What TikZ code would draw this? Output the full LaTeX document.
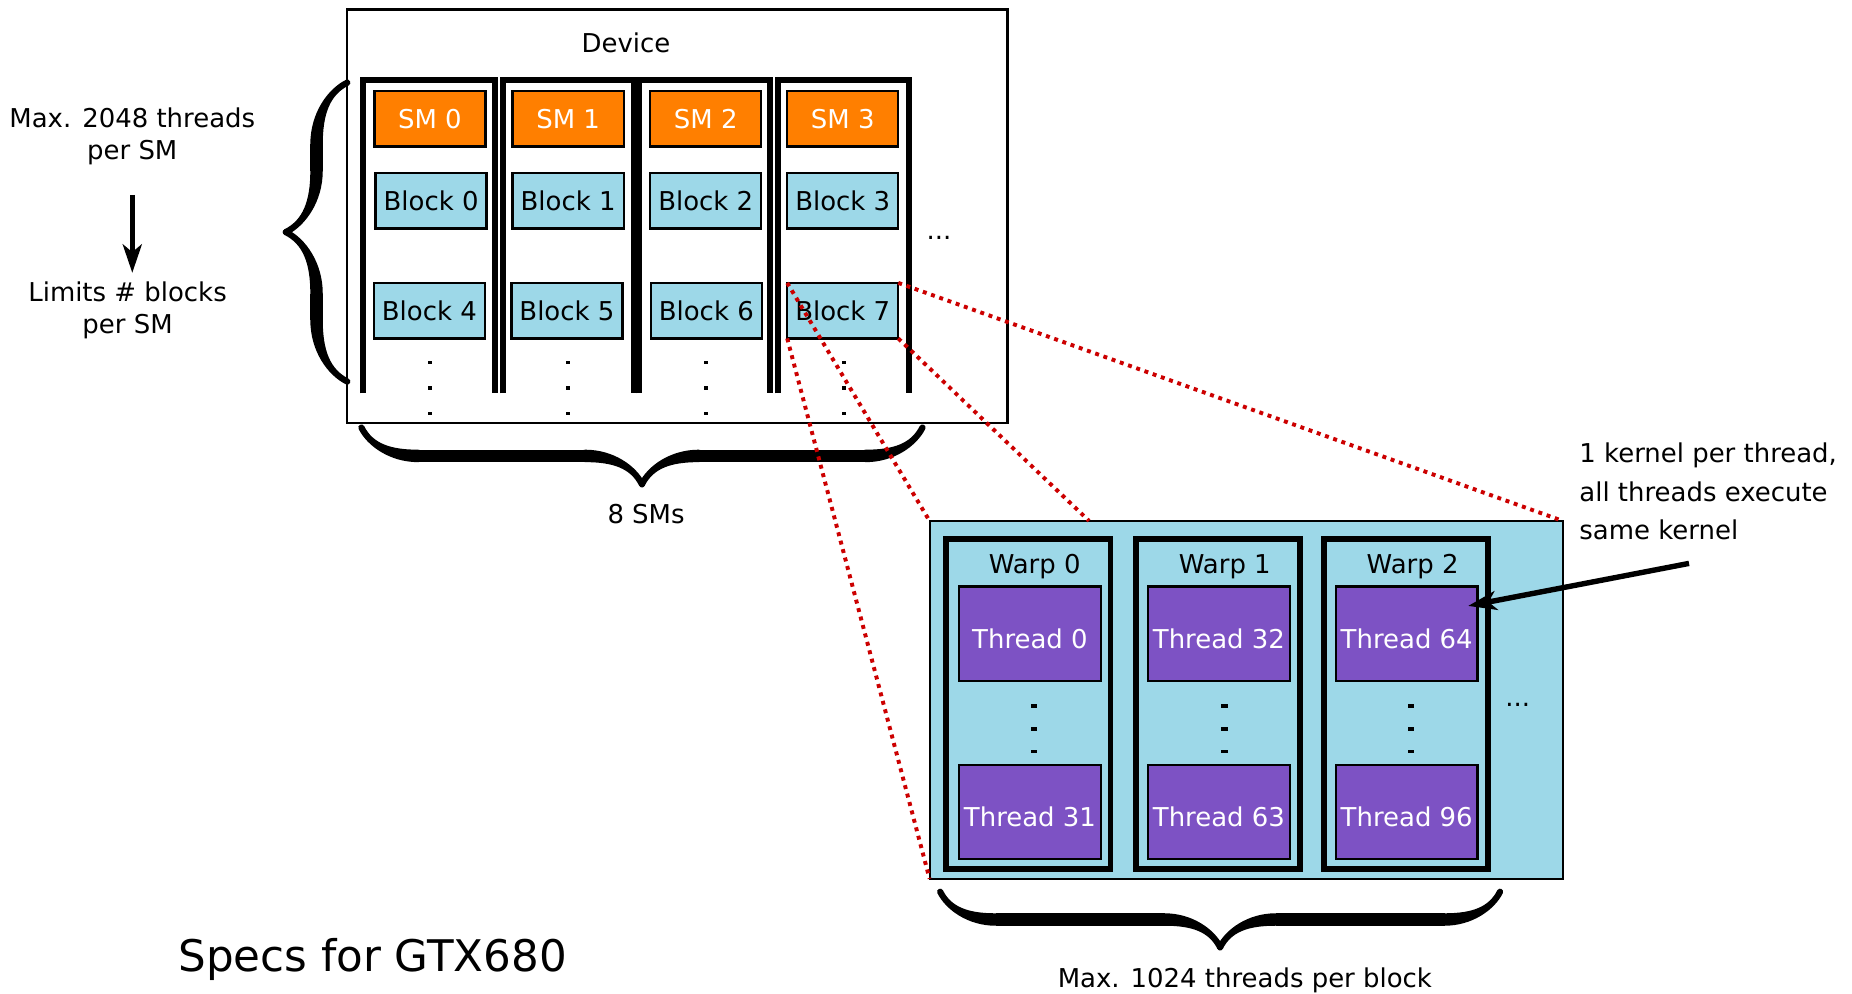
\documentclass[tikz,border=0pt]{standalone}
\usepackage{fontspec}
\setmainfont{DejaVu Sans}
\usetikzlibrary{arrows.meta,decorations.pathreplacing,calligraphy}
\definecolor{smorange}{RGB}{255,127,0}
\definecolor{blkblue}{RGB}{157,216,232}
\definecolor{thrpurple}{RGB}{125,82,196}
\definecolor{zoomred}{RGB}{204,0,0}

\begin{document}
\begin{tikzpicture}[x=.2mm,y=-.2mm,font=\fontsize{12.5}{15.4}\selectfont,
smbox/.style={draw,line width=1.1pt,fill=smorange,text=white,minimum width=18.8mm,minimum height=9.4mm,inner sep=0pt,outer sep=0pt},
blkbox/.style={draw,line width=1.1pt,fill=blkblue,minimum width=18.8mm,minimum height=9.4mm,inner sep=0pt,outer sep=0pt},
thrbox/.style={draw,line width=1.1pt,fill=thrpurple,text=white,minimum width=24mm,minimum height=16mm,inner sep=0pt,outer sep=0pt,text height=14pt,text depth=0pt},
warpbox/.style={draw,line width=2.85pt,fill=blkblue,minimum width=27.8mm,minimum height=55.8mm,inner sep=0pt,outer sep=0pt},
smcol/.style={line width=2.85pt},
zoomline/.style={draw=zoomred,line width=1.9pt,dash pattern=on 1.9pt off 2.3pt},
arr/.style={-{Stealth[length=4.8mm,width=3.2mm,inset=1.3mm]},line width=2.6pt},
brc/.style={decorate,decoration={calligraphic brace,amplitude=#1},line width=6pt,pen colour={black}}]

\useasboundingbox(0,0)rectangle(1568,841);

% threads per SM
\node[align=center](maxsm)at(112,115.5){Max. 2048 threads\\per SM};
\node[align=center](limsm)at(108,263){Limits \# blocks\\per SM};
\coordinate(a1)at(112,165);\coordinate(a2)at(112,231);
\draw[arr](a1)--(a2);
\draw[brc=10.4mm](294,323)--(294,70);

% device with 4 SMs
\draw[line width=1.1pt](294,8)rectangle(853,358);
\node(dev)at(530,36){Device};
\foreach \x in {307.7,425.5,541.2,658.4}
  \draw[smcol](\x,333)|-(\x+111,67.7)--(\x+111,333);
\node[smbox](sm0)at(364,100.5){SM 0};
\node[smbox](sm1)at(481,100.5){SM 1};
\node[smbox](sm2)at(597.5,100.5){SM 2};
\node[smbox](sm3)at(713.5,100.5){SM 3};
\node[blkbox](b0)at(365,170){Block 0};
\node[blkbox](b1)at(481,170){Block 1};
\node[blkbox](b2)at(597.5,170){Block 2};
\node[blkbox](b3)at(713.5,170){Block 3};
\node[blkbox](b4)at(363.5,263){Block 4};
\node[blkbox](b5)at(480,263){Block 5};
\node[blkbox](b6)at(598,263){Block 6};
\node[blkbox](b7)at(713.5,263){Block 7};
\foreach \x in {364.2,481,597.7,714.8}
  \foreach \y in {307,328.5,350}
    \fill(\x-1.75,\y-1.5)rectangle(\x+1.75,\y+1.5);
\node(smmore)at(795,201){...};
\draw[brc=9.6mm](781,362)--(306,362);
\node(nsm)at(547,435){8 SMs};

% one block, zoomed
\node[draw,line width=1pt,fill=blkblue,minimum width=107.2mm,minimum height=60.6mm,inner sep=0pt,outer sep=0pt](blk)at(1055,592.5){};
\coordinate(cut)at(922,441);
\draw[zoomline](b7.north west)--(blk.north west);
\draw[zoomline](b7.south west)--(blk.south west);
\draw[zoomline](b7.north east)--(blk.north east);
\draw[zoomline](b7.south east)--(cut);
\node[warpbox](w0)at(870.7,596){};
\node[warpbox](w1)at(1031.5,596){};
\node[warpbox](w2)at(1190.3,596){};
\node(wl0)at(876,480){Warp 0};
\node(wl1)at(1037,480){Warp 1};
\node(wl2)at(1196,480){Warp 2};
\node[thrbox](t0)at(872,536.5){Thread 0};
\node[thrbox](t31)at(872,687.5){Thread 31};
\node[thrbox](t32)at(1032,536.5){Thread 32};
\node[thrbox](t63)at(1032,687.5){Thread 63};
\node[thrbox](t64)at(1191,536.5){Thread 64};
\node[thrbox](t96)at(1191,687.5){Thread 96};
\foreach \x in {875.4,1036.6,1194.4}
  \foreach \y in {597.7,617.3,636.4}
    \fill(\x-2.75,\y-1.5)rectangle(\x+2.75,\y+1.5);
\node(wmore)at(1285,597){...};
\draw[brc=9.4mm](1270,755)--(796,755);
\node(nthr)at(1054,830){Max. 1024 threads per block};

% kernel note
\node[align=left,anchor=west,font=\fontsize{12.5}{18.5}\selectfont](kern)at(1331,416){1 kernel per thread,\\all threads execute\\same kernel};
\coordinate(kfrom)at(1430,477);\coordinate(ktip)at(1243,513);
\draw[arr](kfrom)--(ktip);

\node[font=\fontsize{21}{25}\selectfont](specs)at(315.5,812){Specs for GTX680};
\end{tikzpicture}
\end{document}
